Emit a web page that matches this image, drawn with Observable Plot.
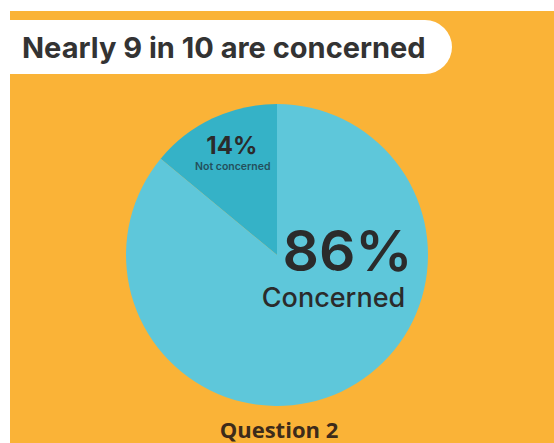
<!DOCTYPE html>
<html>
<head>
<meta charset="utf-8">
<script src="https://cdn.jsdelivr.net/npm/d3@7"></script>
<script src="https://cdn.jsdelivr.net/npm/@observablehq/plot@0.6"></script>
<style>
  html, body { margin: 0; padding: 0; background: #ffffff; }
  body { width: 554px; height: 443px; position: relative; overflow: hidden; }
  #panel { position: absolute; left: 10px; top: 11px; right: 0; bottom: 0; background: #FAB337; }
  #banner { position: absolute; left: 0; top: 20px; width: 452px; height: 54px; background: #ffffff;
            border-radius: 0 27px 27px 0; }
  #title { position: absolute; left: 22px; top: 21px; height: 54px; line-height: 54px; margin: 0;
           font-family: Inter, sans-serif; font-weight: 700; font-size: 29px; color: #333333; white-space: nowrap; }
  #chart { position: absolute; left: 0; top: 86px; }
  #caption { position: absolute; left: 0; width: 558px; top: 414px; text-align: center; margin: 0;
             font-family: "Open Sans", sans-serif; font-weight: 700; font-size: 22px; color: #3d2b1a; }
</style>
</head>
<body>
<div id="panel"></div>
<div id="banner"></div>
<h1 id="title">Nearly 9 in 10 are concerned</h1>
<div id="chart"></div>
<p id="caption">Question 2</p>
<script>
// Data
const categories = ["Not concerned", "Concerned"];
const shares = [14, 86];
const shareLabels = ["14%", "86%"];
const sliceColors = ["#35B2C7", "#5EC7DA"];

const data = categories.map((c, i) => ({category: c, share: shares[i], label: shareLabels[i]}));
const total = d3.sum(shares);
const start = -2 * Math.PI * shares[0] / total;
const arcs = d3.pie().sort(null).value(d => d.share).startAngle(start).endAngle(start + 2 * Math.PI)(data);
const color = d3.scaleOrdinal(categories, sliceColors);

// label anchor (unit coords) at slice centroid
const unitArc = d3.arc().innerRadius(0.68).outerRadius(0.68);
const small = arcs[0];
const c0 = unitArc.centroid(small);
const smallLabel = [{x: c0[0], y: -c0[1], pct: small.data.label, name: small.data.category}];
const bigLabel = [{x: 0, y: 0, pct: arcs[1].data.label, name: arcs[1].data.category}];

const pie = (index, scales) => {
  const cx = scales.x(0), cy = scales.y(0), r = scales.x(1) - scales.x(0);
  const arc = d3.arc().innerRadius(0).outerRadius(r);
  const g = d3.create("svg:g").attr("transform", `translate(${cx},${cy})`);
  g.selectAll("path").data(arcs).join("path")
    .attr("d", arc)
    .attr("fill", d => color(d.data.category));
  return g.node();
};

const chart = Plot.plot({
  width: 554,
  height: 330,
  marginLeft: 126,
  marginRight: 126,
  marginTop: 18,
  marginBottom: 10,
  style: {background: "transparent", overflow: "visible"},
  x: {domain: [-1, 1], axis: null},
  y: {domain: [-1, 1], axis: null},
  marks: [
    pie,
    Plot.text(smallLabel, {x: "x", y: "y", text: "pct", dy: -16, dx: -2, fontFamily: "Inter, sans-serif",
      fontWeight: 700, fontSize: 24, fill: "#2b2b2b"}),
    Plot.text(smallLabel, {x: "x", y: "y", text: "name", dy: 4, dx: -1, fontFamily: "Inter, sans-serif",
      fontWeight: 600, fontSize: 10.5, fill: "#24505c"}),
    Plot.text(bigLabel, {x: "x", y: "y", text: "pct", dx: 70, dy: -3, fontFamily: "Inter, sans-serif",
      fontWeight: 600, fontSize: 57, fill: "#2b2b2b"}),
    Plot.text(bigLabel, {x: "x", y: "y", text: "name", dx: 56, dy: 43, fontFamily: "Inter, sans-serif",
      fontWeight: 500, fontSize: 27, fill: "#2b2b2b"})
  ]
});
document.getElementById("chart").append(chart);
</script>
</body>
</html>
